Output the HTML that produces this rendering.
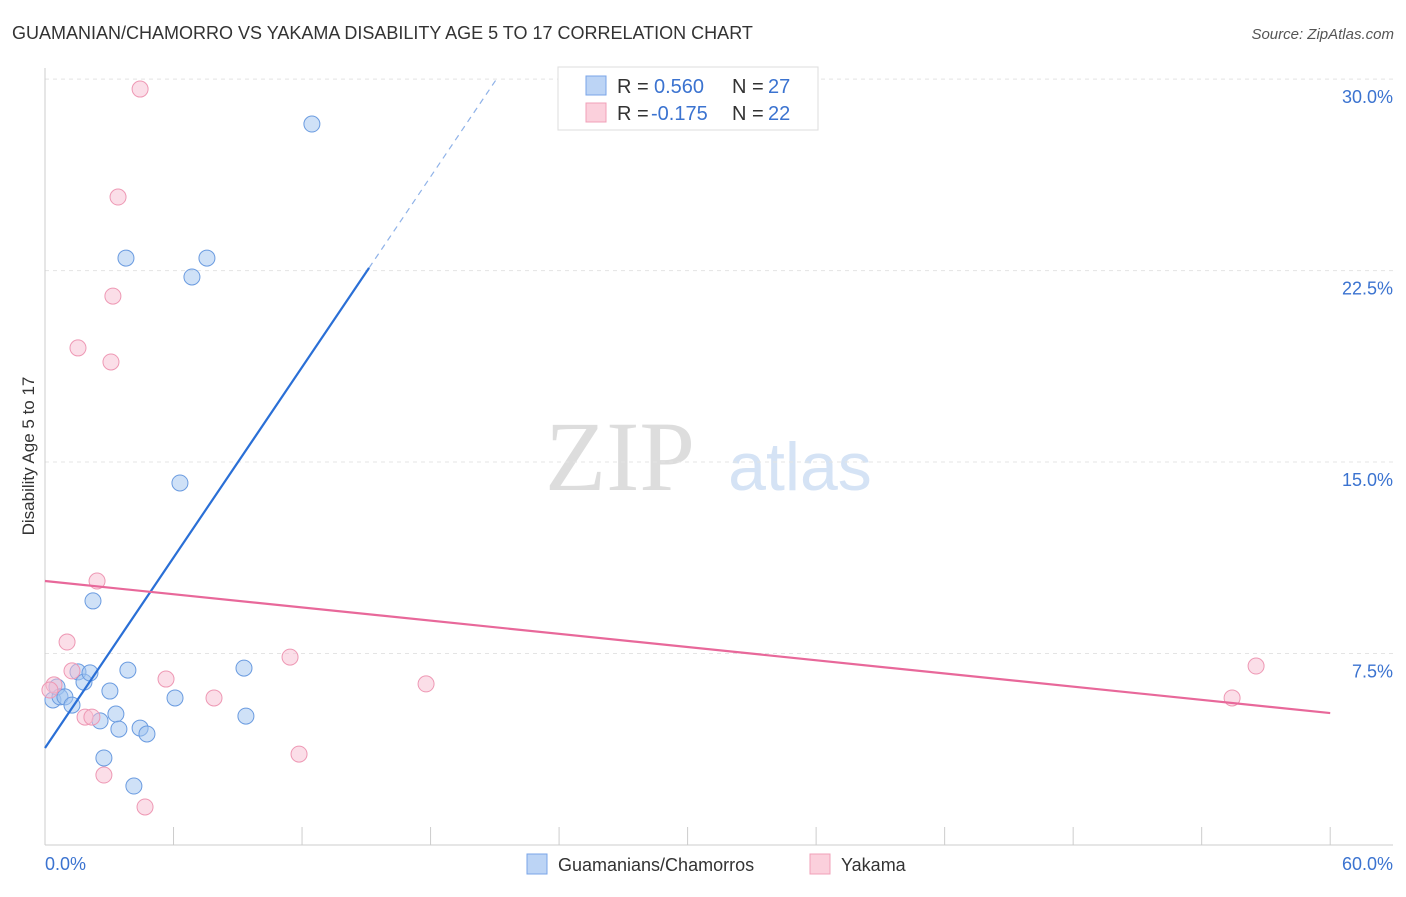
<!DOCTYPE html>
<html><head><meta charset="utf-8"><style>
body{margin:0;background:#fff;font-family:"Liberation Sans",sans-serif;}
</style></head><body>
<svg width="1406" height="892" xmlns="http://www.w3.org/2000/svg" font-family="Liberation Sans, sans-serif">
<text x="12" y="39" font-size="18" fill="#333">GUAMANIAN/CHAMORRO VS YAKAMA DISABILITY AGE 5 TO 17 CORRELATION CHART</text>
<text x="1394" y="39" font-size="15" fill="#555" font-style="italic" text-anchor="end">Source: ZipAtlas.com</text>
<text x="620" y="490" font-size="100" fill="#ddd" font-family="Liberation Serif, serif" text-anchor="middle">ZIP</text>
<text x="800" y="490" font-size="68" fill="#d5e3f5" text-anchor="middle">atlas</text>
<g id="grid"></g>
<g id="axes"></g>
<g id="marks"></g>
<text transform="translate(34,456) rotate(-90)" font-size="17" fill="#333" text-anchor="middle">Disability Age 5 to 17</text>
<text x="45" y="870" font-size="18" fill="#3b73d0">0.0%</text>
<text x="1393" y="870" font-size="18" fill="#3b73d0" text-anchor="end">60.0%</text>
<g>
<rect x="558" y="67" width="260" height="63" fill="#fff" stroke="#ddd"/>
<rect x="586" y="76" width="20" height="19" fill="#bcd4f5" stroke="#7aa5e8"/>
<text x="617" y="93" font-size="20" fill="#333">R =</text>
<text x="654" y="93" font-size="20" fill="#3b73d0">0.560</text>
<text x="732" y="93" font-size="20" fill="#333">N =</text>
<text x="768" y="93" font-size="20" fill="#3b73d0">27</text>
<rect x="586" y="103" width="20" height="19" fill="#fbd0dc" stroke="#f0a0b8"/>
<text x="617" y="120" font-size="20" fill="#333">R =</text>
<text x="651" y="120" font-size="20" fill="#3b73d0">-0.175</text>
<text x="732" y="120" font-size="20" fill="#333">N =</text>
<text x="768" y="120" font-size="20" fill="#3b73d0">22</text>
</g>
<g>
<rect x="527" y="854" width="20" height="20" fill="#bcd4f5" stroke="#7aa5e8"/>
<text x="558" y="871" font-size="18" fill="#333">Guamanians/Chamorros</text>
<rect x="810" y="854" width="20" height="20" fill="#fbd0dc" stroke="#f0a0b8"/>
<text x="841" y="871" font-size="18" fill="#333">Yakama</text>
</g>
</svg>
<script>
const yTicks=[7.5,15,22.5,30];
const yTickLabels=["7.5%","15.0%","22.5%","30.0%"];
const blueX=[0.37,0.56,0.70,0.93,1.26,1.54,1.82,2.10,2.24,2.57,2.75,3.03,3.31,3.45,3.78,3.87,4.15,4.44,4.76,6.07,6.30,6.86,7.56,9.29,9.38,12.46];
const blueY=[5.68,6.19,5.80,5.80,5.48,6.78,6.38,6.74,9.56,4.86,3.41,6.03,5.13,4.54,22.99,6.85,2.31,4.58,4.35,5.76,14.18,22.25,22.99,6.93,5.05,28.24];
const pinkX=[4.44,3.41,3.17,1.54,3.08,2.43,1.03,1.26,0.42,1.87,2.19,2.75,4.67,5.65,7.89,11.44,11.86,17.79,56.54,55.42,0.23];
const pinkY=[29.61,25.38,21.50,19.47,18.92,10.34,7.95,6.82,6.27,5.01,5.01,2.74,1.49,6.50,5.76,7.36,3.56,6.31,7.01,5.76,6.07];
const blueTrend=[3.80,1.243];
const pinkTrend=[10.34,-0.0862];
const NS="http://www.w3.org/2000/svg";
const X=v=>45+v*21.42, Y=v=>845-v*25.53;
function mk(t,a,p){const e=document.createElementNS(NS,t);for(const k in a)e.setAttribute(k,a[k]);document.getElementById(p).appendChild(e);return e;}
yTicks.forEach((t,i)=>{
 const g=mk('line',{x1:45,x2:1393,y1:Y(t),y2:Y(t),stroke:'#e4e4e4','stroke-dasharray':'4,4'},'grid');
 
 
 const l=mk('text',{x:1393,y:Y(t)+24,'font-size':18,fill:'#3b73d0','text-anchor':'end'},'grid');
 l.textContent=yTickLabels[i];
 
 
});
const ax=mk('line',{x1:45,x2:45,y1:68,y2:845,stroke:'#ccc'},'axes');


const bx=mk('line',{x1:45,x2:1393,y1:845,y2:845,stroke:'#ccc'},'axes');


for(let i=0;i<=10;i++){const t=mk('line',{x1:X(i*6),x2:X(i*6),y1:827,y2:845,stroke:'#ccc'},'axes');
 
 }
blueX.forEach((x,i)=>{const c=mk('circle',{cx:X(x),cy:Y(blueY[i]),r:8,fill:'rgba(160,195,240,0.5)',stroke:'#6a9be0','stroke-width':1},'marks');
 
 });
pinkX.forEach((x,i)=>{const c=mk('circle',{cx:X(x),cy:Y(pinkY[i]),r:8,fill:'rgba(248,190,210,0.5)',stroke:'#ee98b4','stroke-width':1},'marks');
 
 });
const bs=mk('line',{x1:X(0),y1:Y(blueTrend[0]),x2:X(15.13),y2:Y(blueTrend[0]+blueTrend[1]*15.13),stroke:'#2a6fd6','stroke-width':2.2},'marks');


const bd=mk('line',{x1:X(15.13),y1:Y(blueTrend[0]+blueTrend[1]*15.13),x2:X(21.1),y2:Y(blueTrend[0]+blueTrend[1]*21.1),stroke:'#8fb2e8','stroke-width':1.2,'stroke-dasharray':'6,5'},'marks');


const pl=mk('line',{x1:X(0),y1:Y(pinkTrend[0]),x2:X(60),y2:Y(pinkTrend[0]+pinkTrend[1]*60),stroke:'#e8689a','stroke-width':2.2},'marks');


</script>
</body></html>
